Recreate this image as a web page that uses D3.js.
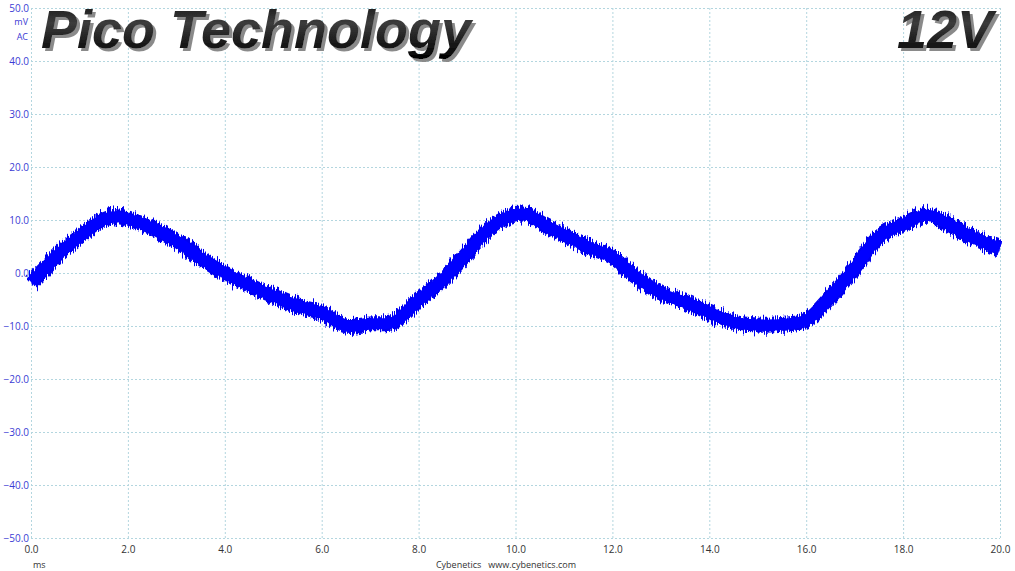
<!DOCTYPE html>
<html>
<head>
<meta charset="utf-8">
<script src="https://cdn.jsdelivr.net/npm/d3@7"></script>
<style>
  body { margin: 0; background: #fff; }
  svg { display: block; }
  .tick text { font-family: "Open Sans", "DejaVu Sans", sans-serif; font-size: 10px; }
</style>
</head>
<body>
<svg id="chart" width="1015" height="571"></svg>
<script>
// time in ms, ripple in mV (centre of the trace)
var timeMs = [0, 0.25, 0.5, 1.0, 1.4, 1.75, 2.0, 2.5, 3.0, 3.5, 4.0, 4.5, 5.0, 5.5, 6.0, 6.5, 7.0, 7.5,
              8.0, 8.5, 9.0, 9.5, 10.0, 10.3, 10.5, 11.0, 11.5, 12.0, 12.5, 13.0, 13.5, 14.0, 14.5,
              15.0, 15.5, 16.0, 16.5, 17.0, 17.5, 18.0, 18.5, 19.0, 19.5, 20.0];
var rippleMv = [-1.7, 0.5, 3.0, 6.8, 9.6, 10.6, 10.2, 8.5, 6.0, 2.8, 0.0, -2.3, -4.3, -6.2, -7.5, -10.0, -9.6, -9.2,
                -5.1, -1.3, 3.8, 8.7, 11.0, 10.9, 9.6, 7.2, 4.9, 3.0, -0.8, -3.8, -5.5, -7.4, -9.3,
                -9.8, -9.7, -8.9, -4.5, 0.9, 6.8, 9.2, 10.9, 8.9, 6.4, 4.7];

var xTicks = [0, 2, 4, 6, 8, 10, 12, 14, 16, 18, 20];
var yTicks = [-50, -40, -30, -20, -10, 0, 10, 20, 30, 40, 50];

var titleLeft = "Pico Technology",
    titleRight = "12V",
    xUnit = "ms",
    yUnits = ["mV", "AC"],
    credit = "Cybenetics   www.cybenetics.com";

var svg = d3.select("#chart");

var x = d3.scaleLinear().domain([0, 20]).range([31, 1000]);
var y = d3.scaleLinear().domain([-50, 50]).range([538, 8]);

var gridColor = "#b3d6df";

// defs: title gradient + shadow, trace jitter
var defs = svg.append("defs");
var grad = defs.append("linearGradient").attr("id", "metal")
    .attr("x1", 0).attr("y1", 0).attr("x2", 0).attr("y2", 1);
grad.append("stop").attr("offset", "0%").attr("stop-color", "#111");
grad.append("stop").attr("offset", "40%").attr("stop-color", "#3c3c3c");
grad.append("stop").attr("offset", "65%").attr("stop-color", "#222");
grad.append("stop").attr("offset", "100%").attr("stop-color", "#000");

var shadow = defs.append("filter").attr("id", "shadow")
    .attr("x", "-5%").attr("y", "-10%").attr("width", "115%").attr("height", "130%");
shadow.append("feOffset").attr("in", "SourceAlpha").attr("dx", 2.5).attr("dy", 3).attr("result", "off");
shadow.append("feFlood").attr("flood-color", "#8a8a8a").attr("result", "col");
shadow.append("feComposite").attr("in", "col").attr("in2", "off").attr("operator", "in").attr("result", "sh");
var merge = shadow.append("feMerge");
merge.append("feMergeNode").attr("in", "sh");
merge.append("feMergeNode").attr("in", "SourceGraphic");

var jitter = defs.append("filter").attr("id", "jitter")
    .attr("x", "-2%").attr("y", "-30%").attr("width", "104%").attr("height", "160%");
jitter.append("feTurbulence").attr("type", "fractalNoise")
    .attr("baseFrequency", "0.9 0.06").attr("numOctaves", 2).attr("seed", 4).attr("result", "t");
jitter.append("feColorMatrix").attr("in", "t").attr("type", "matrix")
    .attr("values", "0 0 0 0 0.5  0 1.6 0 0 -0.3  0 0 0 0 0  0 0 0 0 1").attr("result", "m");
jitter.append("feDisplacementMap").attr("in", "SourceGraphic").attr("in2", "m")
    .attr("scale", 9).attr("xChannelSelector", "R").attr("yChannelSelector", "G");

// grid
var gx = svg.append("g")
    .attr("transform", "translate(0," + y(-50) + ")")
    .call(d3.axisBottom(x).tickValues(xTicks).tickSize(-(y(-50) - y(50))).tickFormat(d3.format(".1f")));
gx.select(".domain").remove();
gx.selectAll("line").attr("stroke", gridColor).attr("stroke-dasharray", "2,2");
gx.selectAll("text").attr("fill", "#333").attr("dy", "0.9em").attr("y", 6);

var gy = svg.append("g")
    .attr("transform", "translate(" + x(0) + ",0)")
    .call(d3.axisLeft(y).tickValues(yTicks).tickSize(-(x(20) - x(0))).tickFormat(d3.format(".1f")));
gy.select(".domain").remove();
gy.selectAll("line").attr("stroke", gridColor).attr("stroke-dasharray", "2,2");
gy.selectAll("text").attr("fill", "#3b3bd4").attr("x", -2);

// units under top label
svg.append("g").selectAll("text").data(yUnits).enter().append("text")
    .attr("x", 28).attr("y", function (d, i) { return 25 + i * 15; })
    .attr("text-anchor", "end")
    .attr("fill", "#3b3bd4")
    .style("font-family", "'Open Sans', 'DejaVu Sans', sans-serif").style("font-size", "9px")
    .text(function (d) { return d; });

// trace
var line = d3.line()
    .x(function (d, i) { return x(timeMs[i]); })
    .y(function (d) { return y(d); })
    .curve(d3.curveCatmullRom.alpha(0.5));

svg.append("path")
    .datum(rippleMv)
    .attr("d", line)
    .attr("fill", "none")
    .attr("stroke", "#0000f0")
    .attr("stroke-width", 15)
    .attr("stroke-linejoin", "round")
    .attr("filter", "url(#jitter)");

svg.append("path")
    .datum(rippleMv)
    .attr("d", line)
    .attr("fill", "none")
    .attr("stroke", "#0000ff")
    .attr("stroke-width", 11)
    .attr("stroke-linejoin", "round");

// titles
function bigText(txt, xPos, anchor) {
    svg.append("text")
        .attr("x", xPos).attr("y", 48)
        .attr("text-anchor", anchor)
        .attr("fill", "url(#metal)")
        .attr("filter", "url(#shadow)")
        .style("font-family", "'Liberation Sans', Arial, sans-serif")
        .style("font-size", "54px").style("font-style", "italic").style("font-weight", "bold")
        .text(txt);
}
bigText(titleLeft, 41, "start");
bigText(titleRight, 993, "end");

// footer
var foot = svg.append("g")
    .style("font-family", "'Open Sans', 'DejaVu Sans', sans-serif").style("font-size", "9px")
    .attr("fill", "#333");
foot.append("text").attr("x", 33).attr("y", 568).text(xUnit);
foot.append("text").attr("x", 506).attr("y", 568).attr("text-anchor", "middle")
    .attr("xml:space", "preserve").style("white-space", "pre").text(credit);
</script>
</body>
</html>
